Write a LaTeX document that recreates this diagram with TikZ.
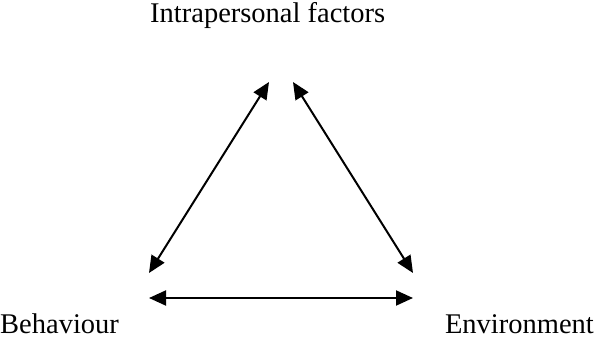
\documentclass[tikz,border=0pt]{standalone}
\usepackage{fontspec}
\setmainfont{Liberation Serif}
\usetikzlibrary{arrows.meta}
\begin{document}
\begin{tikzpicture}[x=1pt,y=-1pt,
  lbl/.style={inner sep=0pt,font=\fontsize{28.5}{34}\selectfont},
  link/.style={line width=2pt,{Triangle[length=17pt,width=15pt]}-{Triangle[length=17pt,width=15pt]}}]
\useasboundingbox (0,0) rectangle (594,339);
\node[lbl,anchor=base west] (intra) at (150,23) {Intrapersonal factors};
\node[lbl,anchor=base west] (beh) at (0,333) {Behaviour};
\node[lbl,anchor=base east] (env) at (594,333) {Environment};
\coordinate (lt) at (269,82);
\coordinate (rt) at (293,82);
\coordinate (lb) at (149,273);
\coordinate (rb) at (413,273);
\coordinate (hl) at (149,298);
\coordinate (hr) at (413,298);
\draw[link] (lb) -- (lt);
\draw[link] (rt) -- (rb);
\draw[link] (hl) -- (hr);
\end{tikzpicture}
\end{document}
